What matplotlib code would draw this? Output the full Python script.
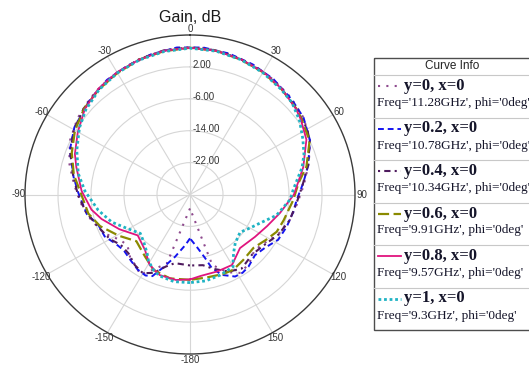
import numpy as np
import matplotlib
matplotlib.use("Agg")
import matplotlib.pyplot as plt
from matplotlib.patches import Rectangle

# gain cuts at phi = 0deg: theta (deg, clockwise from top) and gain (dB)
ang_y0 = [-180, -162, -153, -149, -143, -138, -130, -124, -115, -105, -95, -85, -75, -65, -55,
          -45, -35, -25, -15, -5, 5, 15, 25, 35, 45, 55, 65, 75, 85, 95, 105, 115, 125, 132,
          140, 148, 155, 163, 180]
gain_y0 = [-26.5, -11.8, -8.4, -6.6, -7.9, -8.4, -10.2, -9.6, -7.0, -5.2, -3.5, -1.8, 0.3, 2.1,
           3.3, 4.2, 5.0, 5.6, 6.3, 6.9, 6.9, 6.5, 5.9, 5.2, 4.5, 3.6, 2.1, -0.2, -2.3, -3.9,
           -5.0, -6.4, -8.4, -9.0, -7.6, -6.8, -8.5, -11.5, -26.5]

ang_y02 = [-180, -175, -167, -161, -156, -152, -146, -140, -131, -124, -117, -109, -101, -89,
           -81, -69, -59, -46, -35, -25, -15, -5, 5, 15, 25, 35, 46, 55, 65, 76, 84, 93, 100,
           109, 118, 126, 134, 142, 147, 152, 159, 164, 167, 172, 180]
gain_y02 = [-19.0, -17.3, -14.0, -10.9, -7.6, -7.0, -7.3, -8.0, -8.7, -8.1, -6.8, -6.5, -4.5,
            -2.9, -1.4, 1.2, 2.7, 3.9, 5.1, 5.7, 6.4, 7.0, 7.0, 6.6, 6.0, 5.3, 4.3, 3.6, 2.1,
            -0.5, -2.4, -4.1, -4.6, -5.2, -5.8, -7.4, -8.1, -7.0, -6.6, -6.7, -8.4, -10.8,
            -13.6, -16.4, -19.0]

ang_y04 = [-180, -168, -162, -156, -150, -143, -135, -127, -120, -110, -100, -90, -80, -70, -60,
           -50, -40, -30, -20, -10, 0, 10, 20, 30, 40, 50, 60, 65, 75, 85, 95, 105, 115, 127,
           135, 146, 154, 163, 170, 180]
gain_y04 = [-12.2, -12.4, -11.0, -8.5, -7.2, -7.8, -9.0, -9.0, -7.6, -6.3, -4.4, -2.8, -1.2, 0.9,
            2.5, 3.6, 4.5, 5.3, 6.1, 6.7, 6.9, 6.7, 6.1, 5.5, 4.6, 3.6, 2.8, 2.0, -0.3, -2.6,
            -4.1, -5.0, -6.3, -8.2, -8.7, -7.6, -8.5, -10.5, -12.0, -12.2]

ang_y06 = [-180, -167, -155, -145, -132, -121, -110, -101, -88, -80, -70, -60, -50, -40, -30,
           -20, -10, 0, 10, 20, 30, 40, 50, 55, 65, 76, 84, 93, 106, 114, 122, 131, 142, 151,
           158, 169, 180]
gain_y06 = [-8.6, -8.4, -9.1, -11.0, -12.5, -9.9, -6.8, -4.9, -3.3, -1.4, 0.5, 2.2, 3.5, 4.4,
            5.2, 6.0, 6.5, 6.8, 6.6, 6.0, 5.4, 4.5, 3.6, 3.0, 2.0, -0.9, -3.6, -4.9, -6.4, -7.0,
            -8.4, -9.6, -9.1, -8.4, -8.5, -8.8, -8.6]

ang_y08 = [-180, -171, -160, -151, -142, -129, -117, -106, -99, -88, -76, -70, -60, -50, -40,
           -30, -20, -10, 0, 10, 20, 30, 40, 50, 55, 64, 76, 90, 102, 113, 124, 138, 150, 161,
           173, 180]
gain_y08 = [-8.7, -8.3, -8.5, -9.8, -12.3, -13.7, -10.8, -7.7, -5.8, -3.7, -1.6, -0.3, 1.4, 3.3,
            4.6, 5.4, 6.0, 6.6, 6.8, 6.6, 6.1, 5.5, 4.6, 3.5, 2.8, 1.4, -1.7, -4.8, -7.7, -9.7,
            -11.0, -11.9, -9.6, -9.6, -9.4, -8.7]

ang_y1 = [-180, -170, -160, -155, -149, -145, -137, -129, -119, -110, -100, -88, -79, -68, -58,
          -50, -40, -30, -20, -10, 0, 10, 20, 30, 40, 47, 55, 63, 70, 76, 87, 93, 104, 113, 120,
          128, 138, 144, 148, 150, 160, 170, 180]
gain_y1 = [-7.9, -7.8, -8.3, -9.1, -10.5, -11.9, -13.6, -14.5, -12.5, -9.8, -7.4, -4.5, -2.4,
           -0.4, 1.6, 3.0, 4.3, 5.2, 5.9, 6.4, 6.7, 6.5, 6.0, 5.3, 4.4, 3.8, 2.4, 0.7, -0.6,
           -2.0, -4.9, -5.7, -8.4, -11.6, -13.2, -14.6, -13.6, -12.0, -10.3, -9.1, -8.5, -8.0,
           -7.9]

curve_names = ["y=0, x=0", "y=0.2, x=0", "y=0.4, x=0", "y=0.6, x=0", "y=0.8, x=0", "y=1, x=0"]
curve_freqs = ["Freq='11.28GHz', phi='0deg'", "Freq='10.78GHz', phi='0deg'",
               "Freq='10.34GHz', phi='0deg'", "Freq='9.91GHz', phi='0deg'",
               "Freq='9.57GHz', phi='0deg'", "Freq='9.3GHz', phi='0deg'"]
ring_vals = [-22, -14, -6, 2]
theta_ticks = [0, 30, 60, 90, 120, 150, 180, -150, -120, -90, -60, -30]
theta_labels = ["0", "30", "60", "90", "120", "150", "-180", "-150", "-120", "-90", "-60", "-30"]

series = [(ang_y0, gain_y0), (ang_y02, gain_y02), (ang_y04, gain_y04),
          (ang_y06, gain_y06), (ang_y08, gain_y08), (ang_y1, gain_y1)]
colors = ["#8e4a8e", "#1414f0", "#4e1a5e", "#8a8a00", "#e0147e", "#1fb3c4"]
styles = [(0, (1, 3)), (0, (3, 2)), (0, (1, 2, 3, 2)), (0, (5, 2)), "-", (0, (1, 1))]
widths = [1.5, 1.4, 1.5, 1.6, 1.3, 2.0]

fig = plt.figure(figsize=(5.29, 3.67), dpi=100)
ax = fig.add_axes([25 / 529, 13 / 367, 330 / 529, 319 / 367], projection="polar")
ax.set_aspect("auto")
ax.set_theta_zero_location("N")
ax.set_theta_direction(-1)
ax.set_rlim(-30, 10)

ax.set_xticks(np.deg2rad(np.arange(0, 360, 30)))
ax.set_xticklabels([])
ax.set_xticks(np.deg2rad(np.arange(0, 360, 5)), minor=True)
ax.tick_params(axis="x", which="major", direction="in", length=7, width=1, color="#3a3a3a")
ax.tick_params(axis="x", which="minor", direction="in", length=4, width=0.8, color="#3a3a3a")
ax.set_yticks(ring_vals)
ax.set_yticklabels([])
ax.grid(color="#d6d6d6", lw=0.8)
ax.spines["polar"].set_color("#3a3a3a")
ax.spines["polar"].set_linewidth(1)

for (a, g), c, ls, lw in zip(series, colors, styles, widths):
    ax.plot(np.deg2rad(a), g, color=c, ls=ls, lw=lw)

for t, lab in zip(theta_ticks, theta_labels):
    ax.text(np.deg2rad(t), 11.6, lab, ha="center", va="center", fontsize=7,
            family="Liberation Sans", color="#333333")
for r in ring_vals:
    ax.annotate(f"{r:.2f}", (0, r), xytext=(1.5, 1.5), textcoords="offset points",
                ha="left", va="center", fontsize=7, family="Liberation Sans", color="#333333")

fig.text(190 / 529, 1 - 17 / 367, "Gain, dB", ha="center", va="center", fontsize=11.5,
         family="Liberation Sans", color="#1a1a1a")

# legend panel ("Curve Info"), laid out in pixel units
lax = fig.add_axes([373 / 529, 37 / 367, 160 / 529, 273 / 367])
lax.set_xlim(0, 160)
lax.set_ylim(273, 0)
lax.axis("off")
lax.add_patch(Rectangle((0.5, 0.5), 200, 272, fill=False, ec="#4d4d4d", lw=1, clip_on=False))
lax.text(79, 9, "Curve Info", ha="center", va="center", fontsize=8.5,
         family="Liberation Sans", color="#222222")
row_h = 42.5
for i, (name, fq, c, ls, lw) in enumerate(zip(curve_names, curve_freqs, colors, styles, widths)):
    top = 18 + i * row_h
    lax.plot([0.5, 160], [top, top], color="#c8c8c8", lw=0.8)
    lax.plot([5, 28], [top + 11, top + 11], color=c, ls=ls, lw=lw)
    lax.text(31, top + 11, name, ha="left", va="center", fontsize=12, fontweight="bold",
             family="Liberation Serif", color="#15152a")
    lax.text(4, top + 28, fq, ha="left", va="center", fontsize=9.5,
             family="Liberation Serif", color="#15152a")

fig.savefig("out.png", dpi=100)
